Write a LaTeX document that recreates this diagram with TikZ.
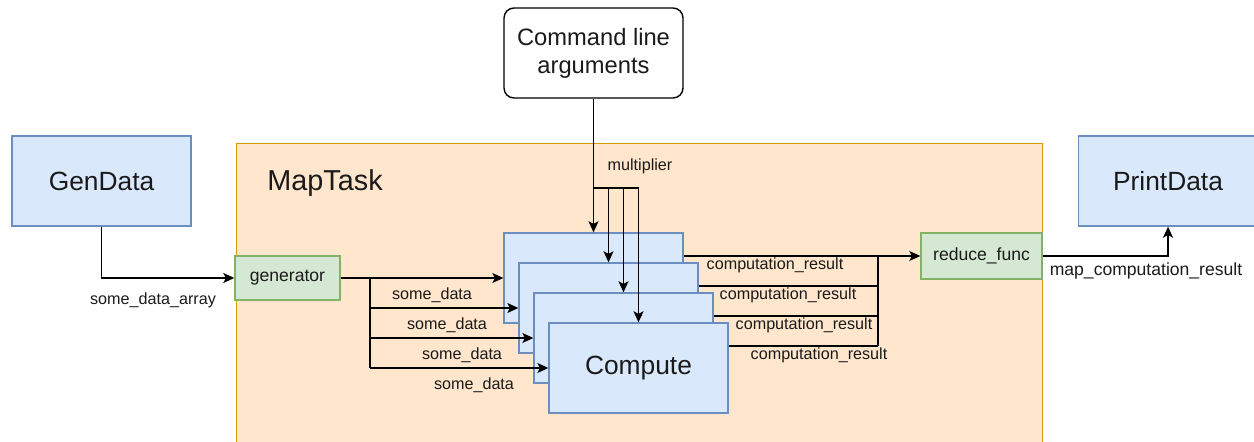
\documentclass[tikz,border=0pt]{standalone}
\usepackage{fontspec}
\setmainfont{Liberation Sans}
\usetikzlibrary{arrows.meta,calc}
\definecolor{bfill}{HTML}{DAE8FC}
\definecolor{bdraw}{HTML}{6C8EBF}
\definecolor{gfill}{HTML}{D5E8D4}
\definecolor{gdraw}{HTML}{82B366}
\definecolor{ofill}{HTML}{FFE6CC}
\definecolor{odraw}{HTML}{D79B00}
\definecolor{txt}{HTML}{1A1A1A}
\begin{document}
\begin{tikzpicture}[x=0.02cm,y=-0.02cm,
  every node/.style={text=txt},
  bluebox/.style={draw=bdraw,fill=bfill,line width=0.8pt,minimum width=3.58cm,minimum height=1.8cm,inner sep=0pt,font=\fontsize{15}{18}\selectfont},
  greenbox/.style={draw=gdraw,fill=gfill,line width=0.8pt,inner sep=0pt,font=\fontsize{10}{12}\selectfont},
  cmdbox/.style={draw=black,fill=white,line width=0.8pt,rounded corners=0.2cm,minimum width=3.58cm,minimum height=1.8cm,inner sep=0pt,align=center,font=\fontsize{13.5}{16}\selectfont},
  container/.style={draw=odraw,fill=ofill,line width=0.8pt,minimum width=16.12cm,minimum height=6.4cm,inner sep=0pt,anchor=north west},
  arr/.style={line width=0.85pt,-{Stealth[length=0.22cm,width=0.2cm,inset=0.05cm]}},
  ln/.style={line width=0.85pt},
  lbl/.style={font=\fontsize{9.2}{11}\selectfont,inner sep=0pt},
  lblb/.style={font=\fontsize{10}{12}\selectfont,inner sep=0pt}
]
\path[use as bounding box,clip] (0,0) rectangle (1254,442);

% container
\node[container] (maptask) at (236,143) {};
\node[font=\fontsize{16.4}{19}\selectfont,inner sep=0pt] (maptasklbl) at (325,183) {MapTask};

% outer nodes
\node[cmdbox] (cmd) at (593.5,53) {Command line\\arguments};
\node[bluebox] (gen) at (101.5,181) {GenData};
\node[bluebox] (pd) at (1168,181) {PrintData};

% inner nodes
\node[greenbox,minimum width=2.1cm,minimum height=0.88cm] (generator) at (287.5,278) {generator};
\node[greenbox,minimum width=2.42cm,minimum height=0.92cm] (red) at (981.5,256) {reduce\_func};

\node[bluebox] (c1) at (593.5,278) {};
\node[bluebox] (c2) at (608.5,308) {};
\node[bluebox] (c3) at (623.5,338) {};
\node[bluebox] (c4) at (638.5,368) {Compute};

% multiplier
\coordinate (mb) at (593.5,188);
\draw[arr] (cmd.south) -- (c1.north);
\draw[arr] (mb) -| (c2.north);
\draw[arr] (mb) -| (c3.north);
\draw[arr] (mb) -| (c4.north);
\node[lbl] (mult) at (640,166) {multiplier};

% some_data_array
\draw[arr] (gen.south) |- (generator.west);
\node[lbl] (sda) at (153,300) {some\_data\_array};

% some_data
\coordinate (sb) at (370,278);
\draw[arr] (generator.east) -- (c1.west);
\draw[ln] (sb) -- (sb |- c4.west);
\draw[arr] (sb |- c2.west) -- (c2.west);
\draw[arr] (sb |- c3.west) -- (c3.west);
\draw[arr] (sb |- c4.west) -- (c4.west);
\node[lbl] (sd1) at (432,295) {some\_data};
\node[lbl] (sd2) at (447,325) {some\_data};
\node[lbl] (sd3) at (462,355) {some\_data};
\node[lbl] (sd4) at (474,385) {some\_data};

% computation_result
\coordinate (rj) at (878,256);
\coordinate (r2) at (878,286);
\coordinate (r3) at (878,316);
\coordinate (r4) at (878,346);
\draw[arr] (c1.east |- red.west) -- (red.west);
\draw[ln] (c2.east |- r2) -- (r2);
\draw[ln] (c3.east |- r3) -- (r3);
\draw[ln] (c4.east |- r4) -- (r4);
\draw[ln] (rj) -- (r4);
\node[lbl] (cr1) at (775,265) {computation\_result};
\node[lbl] (cr2) at (788,295) {computation\_result};
\node[lbl] (cr3) at (804,325) {computation\_result};
\node[lbl] (cr4) at (819,355) {computation\_result};

% map_computation_result
\draw[arr] (red.east) -| (pd.south);
\node[lblb] (mcr) at (1146,271) {map\_computation\_result};
\end{tikzpicture}
\end{document}
